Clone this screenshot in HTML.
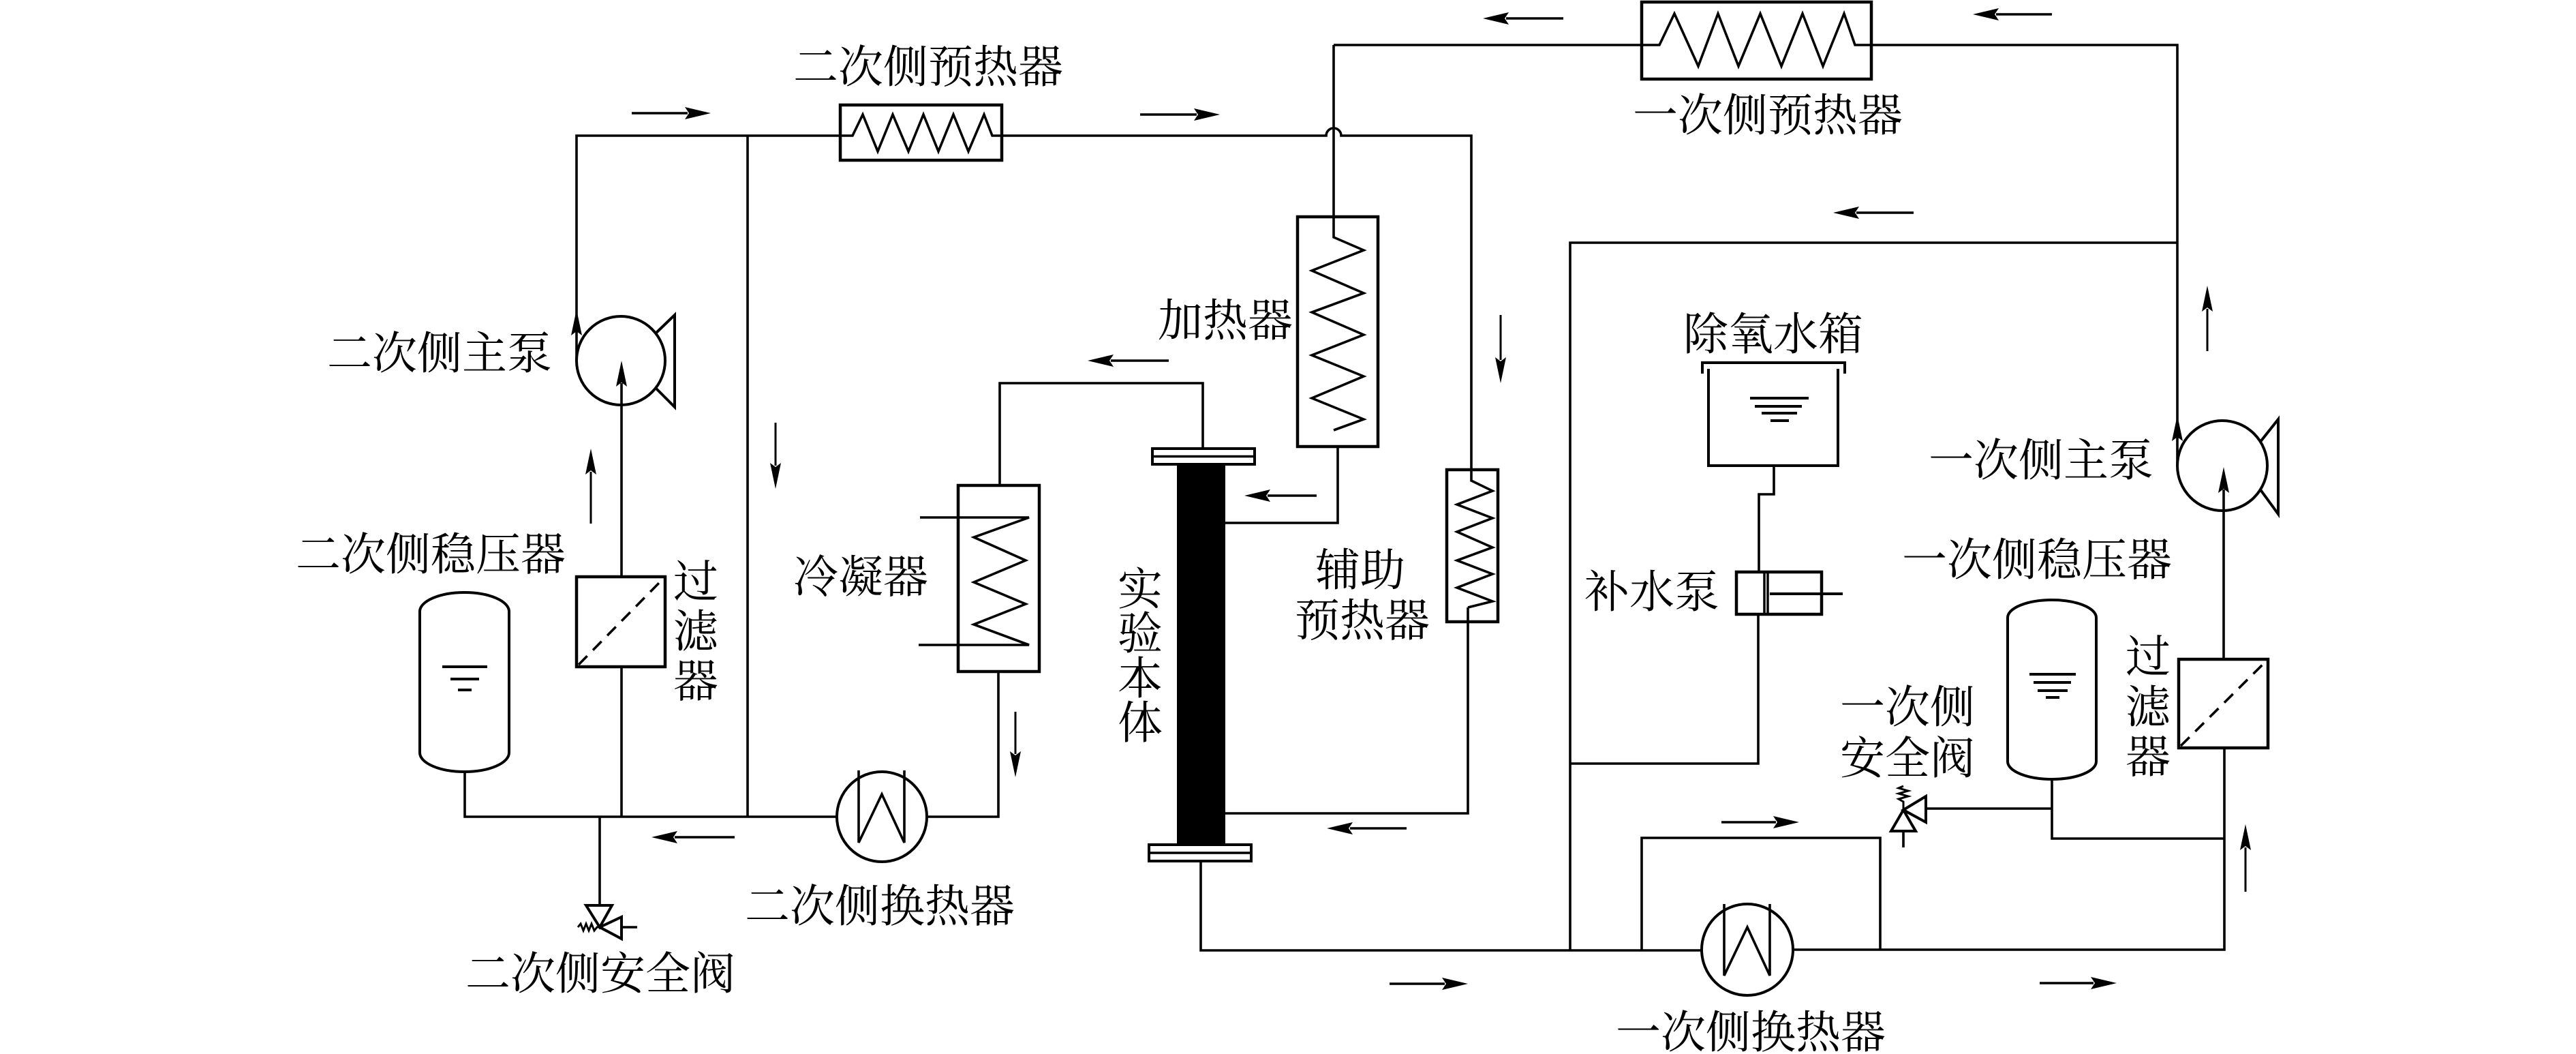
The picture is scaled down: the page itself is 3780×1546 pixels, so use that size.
<!DOCTYPE html>
<html><head><meta charset="utf-8">
<style>
html,body{margin:0;padding:0;background:#fff;}
svg{display:block;}
text{font-family:"Liberation Serif","Noto Serif CJK SC",serif;font-size:66px;fill:#000;}
</style></head>
<body>
<svg width="3780" height="1546" viewBox="0 0 3780 1546" xmlns="http://www.w3.org/2000/svg">
<rect width="3780" height="1546" fill="#fff"/>
<g fill="none" stroke="#000" stroke-width="3.6" stroke-linejoin="miter">
<!-- secondary loop -->
<path d="M846,529 L846,199 L1233,199"/>
<path d="M1470,199 L1946,199 A11,11 0 0 1 1968,199 L2159,199 L2159,689"/>
<path d="M1097,199 L1097,1198"/>
<path d="M682,1132 L682,1198 L1228,1198"/>
<path d="M912,978 L912,1198"/>
<path d="M912,846 L912,562"/>
<path d="M880,1198 L880,1328"/>
<path d="M1360,1198 L1465,1198 L1465,985"/>
<path d="M1467,712 L1467,562 L1765,562 L1765,658"/>
<path d="M1963,655 L1963,767 L1798,767"/>
<path d="M2154,891 L2154,1193 L1798,1193"/>
<!-- secondary preheater -->
<rect x="1233" y="154" width="237" height="81" stroke-width="4.5"/>
<path d="M1233,199 L1251,199 L1266,168 L1288,222 L1310,168 L1333,222 L1355,168 L1377,222 L1399,168 L1421,222 L1444,168 L1456,199 L1470,199"/>
<!-- secondary pump -->
<circle cx="911" cy="529" r="65" stroke-width="4"/>
<path d="M962,489 L990,462 L990,597 L962,569" stroke-width="4"/>
<!-- secondary filter -->
<rect x="846" y="846" width="130" height="132" stroke-width="4.5"/>
<path d="M849,975 L973,849" stroke-dasharray="18 12"/>
<!-- secondary pressurizer -->
<path d="M616,897 A65.5,28 0 0 1 747,897 L747,1104 A65.5,28 0 0 1 616,1104 Z" stroke-width="4"/>
<!-- secondary HX -->
<circle cx="1294" cy="1198" r="66" stroke-width="4"/>
<path d="M1260,1130 L1260,1236 L1294,1165 L1327,1236 L1327,1130"/>
<!-- condenser -->
<rect x="1406" y="712" width="119" height="273" stroke-width="4.5"/>
<path d="M1350,759 L1510,759 L1429,788 L1505,822 L1429,854 L1505,886 L1429,916 L1510,946 L1348,946"/>
<!-- secondary safety valve -->
<path d="M860,1328 L898,1328 L880,1360 Z" stroke-width="4"/>
<path d="M880,1360 L912,1345 L912,1377 Z" stroke-width="4"/>
<path d="M912,1360 L935,1360"/>
<path d="M848,1360 L852,1355 L856,1365 L860,1355 L864,1365 L868,1355 L872,1365 L876,1360 L880,1360" stroke-width="3"/>
<!-- test section -->
<rect x="1691" y="658" width="150" height="23" stroke-width="4"/>
<path d="M1691,669.5 L1841,669.5"/>
<rect x="1686" y="1239" width="150" height="24" stroke-width="4"/>
<path d="M1686,1251 L1836,1251"/>
<!-- heater -->
<rect x="1904" y="318" width="118" height="337" stroke-width="4.5"/>
<path d="M1957,66 L1957,348 L2001,367 L1925,397 L2001,430 L1925,458 L2001,491 L1925,521 L2001,552 L1925,584 L2001,615 L1957,631"/>
<!-- aux preheater -->
<rect x="2123" y="689" width="75" height="223" stroke-width="4.5"/>
<path d="M2159,689 L2159,705 L2190,720 L2138,740 L2190,760 L2138,780 L2190,803 L2138,822 L2190,842 L2138,862 L2190,882 L2154,891"/>
<!-- primary loop -->
<path d="M1762,1263 L1762,1394 L2497,1394"/>
<path d="M2631,1393 L3264,1393 L3264,1097"/>
<path d="M3263,967 L3263,718"/>
<path d="M3195,683 L3195,66 L2746,66"/>
<path d="M2409,66 L1957,66"/>
<path d="M2304,1394 L2304,356 L3195,356"/>
<path d="M2409,1394 L2409,1229 L2759,1229 L2759,1393"/>
<path d="M2304,1120 L2580,1120 L2580,901"/>
<path d="M2581,839 L2581,725 L2603,725 L2603,683"/>
<path d="M3011,1143 L3011,1230 L3264,1230"/>
<path d="M2826,1186 L3011,1186"/>
<!-- primary preheater -->
<rect x="2409" y="3" width="337" height="113" stroke-width="4.5"/>
<path d="M2409,66 L2435,66 L2457,20 L2492,97 L2521,20 L2551,97 L2583,20 L2614,97 L2645,20 L2675,97 L2706,20 L2722,66 L2746,66"/>
<!-- primary pump -->
<circle cx="3261" cy="683" r="66" stroke-width="4"/>
<path d="M3316,649 L3343,615 L3343,754 L3316,717" stroke-width="4"/>
<!-- primary filter -->
<rect x="3197" y="967" width="131" height="130" stroke-width="4.5"/>
<path d="M3200,1094 L3325,970" stroke-dasharray="18 12"/>
<!-- primary pressurizer -->
<path d="M2946,906 A65,26 0 0 1 3076,906 L3076,1117 A65,26 0 0 1 2946,1117 Z" stroke-width="4"/>
<!-- primary HX -->
<circle cx="2564" cy="1393" r="67" stroke-width="4"/>
<path d="M2530,1326 L2530,1431 L2564,1360 L2597,1431 L2597,1326"/>
<!-- tank -->
<path d="M2498,548 L2498,532 L2707,532 L2707,548" stroke-width="4"/>
<path d="M2507,541 L2507,683 L2697,683 L2697,541" stroke-width="4"/>
<!-- makeup pump -->
<rect x="2548" y="839" width="125" height="62" stroke-width="4.5"/>
<path d="M2589,839 L2589,901 M2594,839 L2594,901" stroke-width="3.5"/>
<path d="M2597,871 L2704,871" stroke-width="4"/>
<!-- primary safety valve -->
<path d="M2793,1188 L2826,1168 L2826,1206 Z" stroke-width="4"/>
<path d="M2793,1188 L2775,1219 L2811,1219 Z" stroke-width="4"/>
<path d="M2793,1219 L2793,1243"/>
<path d="M2793,1188 L2793,1176 L2786,1172 L2800,1168 L2786,1164 L2800,1160 L2786,1156 L2793,1153" stroke-width="3"/>
<!-- arrow shafts -->
<path d="M927,166 L1009,166 M1673,168 L1756,168 M2526,1206 L2606,1206 M2039,1443 L2120,1443 M2993,1442 L3072,1442"/>
<path d="M2210,27 L2294,27 M2929,21 L3011,21 M2724,312 L2808,312 M1630,529 L1715,529 M1860,727 L1932,727 M990,1228 L1078,1228 M1981,1215 L2064,1215"/>
<path d="M1138,620 L1138,683 M1490,1044 L1490,1106 M2202,462 L2202,528" stroke-width="3"/>
<path d="M867,692 L867,768 M3239,453 L3239,515 M3295,1243 L3295,1308" stroke-width="3"/>
</g>
<!-- level lines -->
<g stroke="#000" stroke-width="4">
<path d="M649,978 L715,978 M661,996 L703,996 M672,1012 L692,1012"/>
<path d="M2978,989 L3046,989 M2984,1001 L3039,1001 M2990,1013 L3034,1013 M3002,1023 L3022,1023"/>
<path d="M2568,584 L2654,584 M2575,596 L2644,596 M2585,606 L2637,606 M2598,617 L2625,617"/>
</g>
<!-- test body -->
<rect x="1727" y="681" width="71" height="558" fill="#000"/>
<!-- arrowheads -->
<g fill="#000" stroke="none">
<polygon points="1043,166 1005,157 1011,166 1005,175"/>
<polygon points="1790,168 1752,159 1758,168 1752,177"/>
<polygon points="2640,1206 2602,1197 2608,1206 2602,1215"/>
<polygon points="2154,1443 2116,1434 2122,1443 2116,1452"/>
<polygon points="3106,1442 3068,1433 3074,1442 3068,1451"/>
<polygon points="2176,27 2214,18 2208,27 2214,36"/>
<polygon points="2895,21 2933,12 2927,21 2933,30"/>
<polygon points="2690,312 2728,303 2722,312 2728,321"/>
<polygon points="1596,529 1634,520 1628,529 1634,538"/>
<polygon points="1826,727 1864,718 1858,727 1864,736"/>
<polygon points="956,1228 994,1219 988,1228 994,1237"/>
<polygon points="1947,1215 1985,1206 1979,1215 1985,1224"/>
<polygon points="1138,717 1130,679 1138,685 1146,679"/>
<polygon points="1490,1140 1482,1102 1490,1108 1498,1102"/>
<polygon points="2202,562 2194,524 2202,530 2210,524"/>
<polygon points="867,658 859,696 867,690 875,696"/>
<polygon points="3239,419 3231,457 3239,451 3247,457"/>
<polygon points="3295,1209 3287,1247 3295,1241 3303,1247"/>
<polygon points="846,454 838,492 846,486 854,492"/>
<polygon points="912,529 904,567 912,561 920,567"/>
<polygon points="3195,609 3187,647 3195,641 3203,647"/>
<polygon points="3263,685 3255,723 3263,717 3271,723"/>
</g>
<!-- labels -->
<text x="1164" y="121">二次侧预热器</text>
<text x="480" y="541">二次侧主泵</text>
<text x="434" y="836">二次侧稳压器</text>
<text x="988" y="876">过</text>
<text x="988" y="949">滤</text>
<text x="988" y="1022">器</text>
<text x="1164" y="869">冷凝器</text>
<text x="1093" y="1352">二次侧换热器</text>
<text x="683" y="1451">二次侧安全阀</text>
<text x="1699" y="493">加热器</text>
<text x="1640" y="887">实</text>
<text x="1640" y="952">验</text>
<text x="1640" y="1018">本</text>
<text x="1640" y="1083">体</text>
<text x="1930" y="859">辅助</text>
<text x="1900" y="933">预热器</text>
<text x="2396" y="192">一次侧预热器</text>
<text x="2470" y="513">除氧水箱</text>
<text x="2325" y="891">补水泵</text>
<text x="2830" y="698">一次侧主泵</text>
<text x="2791" y="844">一次侧稳压器</text>
<text x="2700" y="1060">一次侧</text>
<text x="2700" y="1135">安全阀</text>
<text x="3119" y="986">过</text>
<text x="3119" y="1060">滤</text>
<text x="3119" y="1133">器</text>
<text x="2371" y="1537">一次侧换热器</text>
</svg>
</body></html>
